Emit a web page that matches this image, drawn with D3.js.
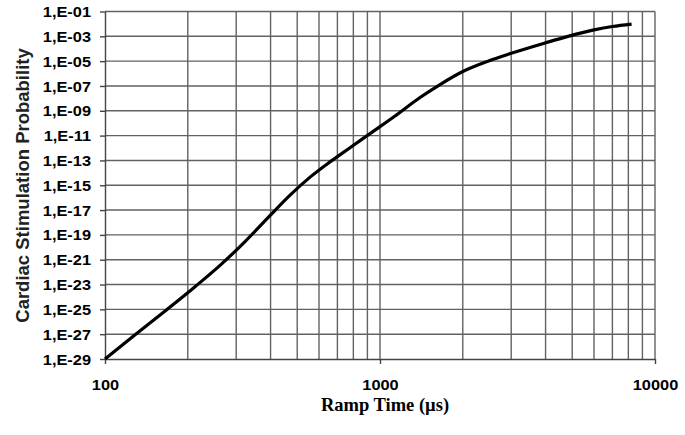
<!DOCTYPE html>
<html>
<head>
<meta charset="utf-8">
<script src="https://cdn.jsdelivr.net/npm/d3@7"></script>
<style>
  body { margin: 0; background: #fff; }
  svg { display: block; }
</style>
</head>
<body>
<svg></svg>
<script>
// ramp time (us) and probability
let rampTime = [100, 128, 165, 212, 262, 323, 398, 471, 557, 658, 778, 920, 1134, 1398, 1653, 2000, 2470, 3000, 4000, 4790, 6000, 7000, 8220]
let probability = [1e-29, 8.3e-28, 7.1e-26, 6.4e-24, 3.5e-22, 2.9e-20, 3.6e-18, 1.6e-16, 4.5e-15, 7.6e-14, 1.06e-12, 1.45e-11,
                   3.8e-10, 1.17e-8, 1.3e-7, 1.46e-6, 1e-5, 4.3e-5, 3e-4, 9.5e-4, 3.3e-3, 6.2e-3, 9.7e-3]

let xTicks = [100, 1000, 10000]
let xTickLabels = ['100', '1000', '10000']
let xGrid = [200, 300, 400, 500, 600, 700, 800, 900, 1000, 2000, 3000, 4000, 5000, 6000, 7000, 8000, 9000, 10000]

let yTicks = [1e-1, 1e-3, 1e-5, 1e-7, 1e-9, 1e-11, 1e-13, 1e-15, 1e-17, 1e-19, 1e-21, 1e-23, 1e-25, 1e-27, 1e-29]
let yTickLabels = ['1,E-01', '1,E-03', '1,E-05', '1,E-07', '1,E-09', '1,E-11', '1,E-13', '1,E-15',
                   '1,E-17', '1,E-19', '1,E-21', '1,E-23', '1,E-25', '1,E-27', '1,E-29']

let width = 685
let height = 435
let plotLeft = 105
let plotRight = 655
let plotTop = 11.5
let plotBottom = 359
let stretch = 1.17

let svg = d3.select('svg')
    .attr('width', width)
    .attr('height', height)

let xScale = d3.scaleLog()
    .domain([100, 10000])
    .range([plotLeft, plotRight])

let yScale = d3.scaleLog()
    .domain([1e-29, 1e-1])
    .range([plotBottom, plotTop])

// grid
svg.append('g')
    .selectAll('line')
    .data(xGrid)
    .enter()
    .append('line')
    .attr('x1', d => xScale(d))
    .attr('x2', d => xScale(d))
    .attr('y1', plotTop)
    .attr('y2', plotBottom)
    .attr('stroke', '#626262')
    .attr('stroke-width', 1.4)

svg.append('g')
    .selectAll('line')
    .data(yTicks.slice(0, -1))
    .enter()
    .append('line')
    .attr('x1', plotLeft)
    .attr('x2', plotRight)
    .attr('y1', d => yScale(d))
    .attr('y2', d => yScale(d))
    .attr('stroke', '#626262')
    .attr('stroke-width', 1.4)

// axes
let xAxis = d3.axisBottom(xScale)
    .tickValues(xTicks)
    .tickFormat((d, i) => xTickLabels[i])
    .tickSizeInner(5)
    .tickSizeOuter(0)

let gx = svg.append('g')
    .attr('transform', 'translate(0,' + plotBottom + ')')
    .call(xAxis)

let yAxis = d3.axisLeft(yScale)
    .tickValues(yTicks)
    .tickFormat((d, i) => yTickLabels[i])
    .tickSizeInner(5)
    .tickSizeOuter(0)

let gy = svg.append('g')
    .attr('transform', 'translate(' + plotLeft + ',0)')
    .call(yAxis)

svg.selectAll('.domain, .tick line')
    .attr('stroke', '#444')
    .attr('stroke-width', 1.4)

gx.selectAll('.tick text')
    .attr('y', 21)
    .attr('dy', '0.71em')
    .attr('transform', 'scale(' + stretch + ',1)')

gy.selectAll('.tick text')
    .attr('x', -14 / stretch)
    .attr('dy', '0.36em')
    .attr('transform', 'scale(' + stretch + ',1)')

svg.selectAll('.tick text')
    .attr('fill', '#000')
    .style('font-family', 'Arial, "Liberation Sans", sans-serif')
    .style('font-weight', 'bold')
    .style('font-size', '14px')

// curve
let line = d3.line()
    .x((d, i) => xScale(rampTime[i]))
    .y(d => yScale(d))
    .curve(d3.curveMonotoneX)

svg.append('path')
    .datum(probability)
    .attr('d', line)
    .attr('fill', 'none')
    .attr('stroke', '#000')
    .attr('stroke-width', 3.2)
    .attr('stroke-linejoin', 'round')

// titles
svg.append('text')
    .attr('x', (plotLeft + plotRight) / 2 + 5)
    .attr('y', 411)
    .attr('text-anchor', 'middle')
    .style('font-family', '"Times New Roman", "Liberation Serif", serif')
    .style('font-weight', 'bold')
    .style('font-size', '18.5px')
    .text('Ramp Time (µs)')

svg.append('text')
    .attr('transform', 'translate(28.5,185.5) rotate(-90)')
    .attr('text-anchor', 'middle')
    .style('font-family', 'Arial, "Liberation Sans", sans-serif')
    .style('font-weight', 'bold')
    .style('font-size', '18.5px')
    .attr('fill', '#222')
    .text('Cardiac Stimulation Probability')
</script>
</body>
</html>
